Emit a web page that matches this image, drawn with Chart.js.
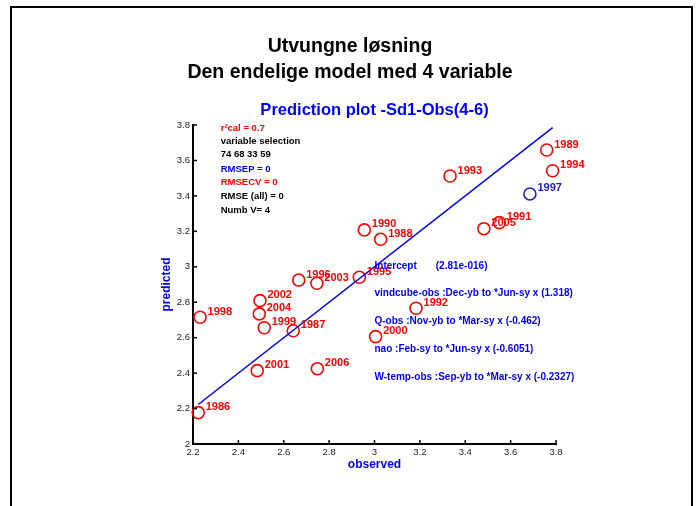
<!DOCTYPE html>
<html>
<head>
<meta charset="utf-8">
<script src="https://cdn.jsdelivr.net/npm/chart.js@4.4.0/dist/chart.umd.min.js"></script>
<style>
  body { margin: 0; background: #fff; }
  canvas { display: block; }
</style>
</head>
<body>
<canvas id="pred-chart" width="700" height="506"></canvas>
<script>
const years = ['1986', '1987', '1988', '1989', '1990', '1991', '1992', '1993', '1994', '1995',
  '1996', '1998', '1999', '2000', '2001', '2002', '2003', '2004', '2005', '2006'];
const observed = [2.223, 2.642, 3.027, 3.759, 2.955, 3.550, 3.183, 3.333, 3.785, 2.933,
  2.666, 2.231, 2.514, 3.005, 2.483, 2.495, 2.746, 2.492, 3.482, 2.748];
const predicted = [2.177, 2.639, 3.155, 3.659, 3.208, 3.249, 2.766, 3.512, 3.542, 2.941,
  2.925, 2.715, 2.656, 2.606, 2.414, 2.809, 2.907, 2.734, 3.215, 2.425];

// the highlighted (left out) year
const testYear = ['1997'];
const testObserved = [3.685];
const testPredicted = [3.411];

// target line y = x over the observed range
const lineX = [2.223, 3.785];
const lineY = [2.223, 3.785];

const xTicks = [2.2, 2.4, 2.6, 2.8, 3, 3.2, 3.4, 3.6, 3.8];
const yTicks = [2, 2.2, 2.4, 2.6, 2.8, 3, 3.2, 3.4, 3.6, 3.8];

const mainTitle = ['Utvungne løsning', 'Den endelige model med 4 variable'];
const plotTitle = 'Prediction plot -Sd1-Obs(4-6)';
const xLabel = 'observed';
const yLabel = 'predicted';

const infoLines = ['r²cal = 0.7', 'variable selection', '74 68 33 59', 'RMSEP = 0',
  'RMSECV = 0', 'RMSE (all) = 0', 'Numb V= 4'];
const infoY = [3.782, 3.706, 3.635, 3.552, 3.477, 3.396, 3.317];
const infoColors = ['#ff0000', '#000', '#000', '#0000ff', '#ff0000', '#000', '#000'];

const modelTerms = ['Intercept', 'vindcube-obs :Dec-yb to *Jun-sy x (1.318)',
  'Q-obs :Nov-yb to *Mar-sy x (-0.462)', 'nao :Feb-sy to *Jun-sy x (-0.6051)',
  'W-temp-obs :Sep-yb to *Mar-sy x (-0.2327)'];
const modelY = [3.005, 2.85, 2.69, 2.534, 2.376];
const interceptValue = '(2.81e-016)';

const FONT = '"Liberation Sans", Arial, sans-serif';
const RED = '#ff0000';
const BLUE = '#0000ff';
const DARKBLUE = '#2020b8';

const toPoints = (xs, ys) => xs.map((x, i) => ({ x: x, y: ys[i] }));

// everything painted on top of the library's axes
const decorPlugin = {
  id: 'decor',
  beforeDraw(chart) {
    const ctx = chart.ctx;
    ctx.save();
    ctx.fillStyle = '#fff';
    ctx.fillRect(0, 0, chart.width, chart.height);
    ctx.strokeStyle = '#000';
    ctx.lineWidth = 2;
    ctx.strokeRect(11, 7, 681, 520);
    ctx.restore();
  },
  afterDraw(chart) {
    const ctx = chart.ctx;
    const xs = chart.scales.x;
    const ys = chart.scales.y;
    const area = chart.chartArea;
    ctx.save();

    // inward tick marks
    ctx.strokeStyle = '#000';
    ctx.lineWidth = 1.5;
    xs.ticks.forEach(t => {
      const px = xs.getPixelForValue(t.value);
      ctx.beginPath();
      ctx.moveTo(px, area.bottom);
      ctx.lineTo(px, area.bottom - 4);
      ctx.stroke();
    });
    ys.ticks.forEach(t => {
      const py = ys.getPixelForValue(t.value);
      ctx.beginPath();
      ctx.moveTo(area.left, py);
      ctx.lineTo(area.left + 4, py);
      ctx.stroke();
    });

    ctx.textBaseline = 'middle';

    // titles
    ctx.textAlign = 'center';
    ctx.fillStyle = '#000';
    ctx.font = 'bold 19.5px ' + FONT;
    ctx.fillText(mainTitle[0], 350, 47);
    ctx.fillText(mainTitle[1], 350, 73);
    ctx.fillStyle = BLUE;
    ctx.font = 'bold 16.5px ' + FONT;
    ctx.fillText(plotTitle, (area.left + area.right) / 2, 110);

    // axis titles
    ctx.font = 'bold 12px ' + FONT;
    ctx.fillText(xLabel, (area.left + area.right) / 2, 465);
    ctx.save();
    ctx.translate(167, (area.top + area.bottom) / 2);
    ctx.rotate(-Math.PI / 2);
    ctx.fillText(yLabel, 0, 0);
    ctx.restore();

    // year labels next to the circles
    ctx.textAlign = 'left';
    ctx.font = 'bold 11px ' + FONT;
    chart.data.datasets.forEach((ds, di) => {
      if (!ds.yearLabels) return;
      const meta = chart.getDatasetMeta(di);
      ctx.fillStyle = ds.borderColor;
      meta.data.forEach((pt, i) => {
        ctx.fillText(ds.yearLabels[i], pt.x + 7.5, pt.y - 5.5);
      });
    });

    // statistics block
    ctx.font = 'bold 9.5px ' + FONT;
    infoLines.forEach((txt, i) => {
      ctx.fillStyle = infoColors[i];
      ctx.fillText(txt, xs.getPixelForValue(2.322), ys.getPixelForValue(infoY[i]));
    });

    // model terms
    ctx.font = 'bold 10px ' + FONT;
    ctx.fillStyle = BLUE;
    modelTerms.forEach((txt, i) => {
      ctx.fillText(txt, xs.getPixelForValue(3.0), ys.getPixelForValue(modelY[i]));
    });
    ctx.fillText(interceptValue, xs.getPixelForValue(3.27), ys.getPixelForValue(modelY[0]));

    ctx.restore();
  }
};

const tickFont = { family: FONT, size: 9.5 };

new Chart(document.getElementById('pred-chart').getContext('2d'), {
  type: 'scatter',
  data: {
    datasets: [
      {
        label: 'y = x',
        data: toPoints(lineX, lineY),
        showLine: true,
        borderColor: BLUE,
        borderWidth: 1.5,
        pointRadius: 0,
        clip: false
      },
      {
        label: 'Calibration years',
        data: toPoints(observed, predicted),
        yearLabels: years,
        borderColor: RED,
        backgroundColor: 'rgba(0,0,0,0)',
        borderWidth: 1.6,
        pointRadius: 6,
        clip: false
      },
      {
        label: 'Test year',
        data: toPoints(testObserved, testPredicted),
        yearLabels: testYear,
        borderColor: DARKBLUE,
        backgroundColor: 'rgba(0,0,0,0)',
        borderWidth: 1.6,
        pointRadius: 6,
        clip: false
      }
    ]
  },
  options: {
    responsive: false,
    animation: false,
    events: [],
    layout: { padding: { top: 125, right: 144, left: 0, bottom: 0 } },
    plugins: {
      legend: { display: false },
      tooltip: { enabled: false }
    },
    scales: {
      x: {
        type: 'linear',
        min: xTicks[0],
        max: xTicks[xTicks.length - 1],
        afterBuildTicks: s => { s.ticks = xTicks.map(v => ({ value: v })); },
        afterFit: s => { s.height = 62; },
        grid: { display: true, drawOnChartArea: false, drawTicks: false },
        border: { display: true, color: '#000', width: 2 },
        ticks: {
          color: '#222',
          font: tickFont,
          padding: 3,
          maxRotation: 0,
          autoSkip: false,
          callback: v => String(+v.toFixed(1))
        }
      },
      y: {
        type: 'linear',
        min: yTicks[0],
        max: yTicks[yTicks.length - 1],
        afterBuildTicks: s => { s.ticks = yTicks.map(v => ({ value: v })); },
        afterFit: s => { s.width = 193; },
        grid: { display: true, drawOnChartArea: false, drawTicks: false },
        border: { display: true, color: '#000', width: 2 },
        ticks: {
          color: '#222',
          font: tickFont,
          padding: 3,
          autoSkip: false,
          callback: v => String(+v.toFixed(1))
        }
      }
    }
  },
  plugins: [decorPlugin]
});
</script>
</body>
</html>
